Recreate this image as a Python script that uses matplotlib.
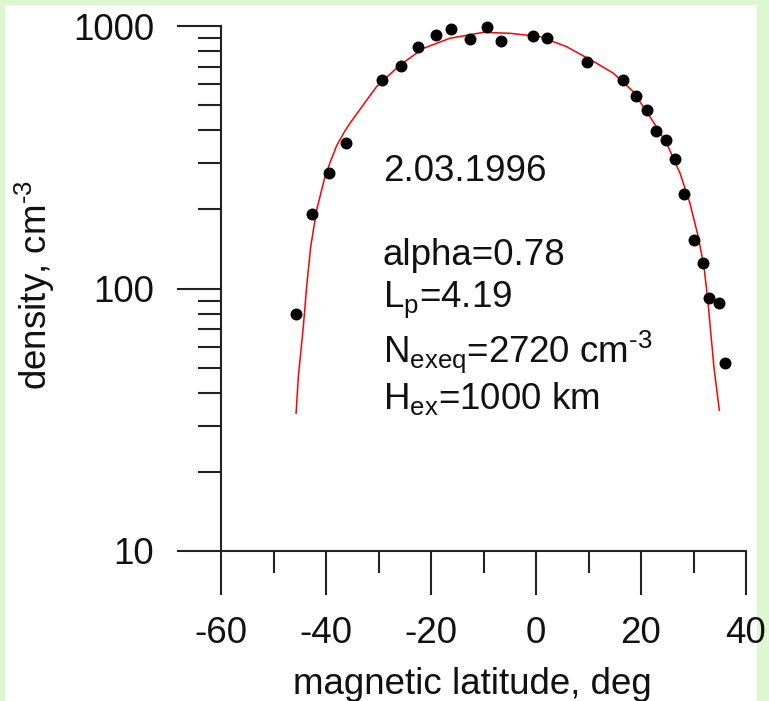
import matplotlib
matplotlib.use("Agg")
import matplotlib.pyplot as plt
from matplotlib.patches import Rectangle
from matplotlib.ticker import FixedLocator, NullFormatter

plt.rcParams['font.family'] = ['Liberation Sans', 'DejaVu Sans']
plt.rcParams['mathtext.fontset'] = 'custom'
plt.rcParams['mathtext.rm'] = 'Liberation Sans'
plt.rcParams['mathtext.it'] = 'Liberation Sans'
plt.rcParams['mathtext.default'] = 'regular'

# measured densities (black dots)
obs_lat = [-45.7, -42.7, -39.5, -36.1, -29.3, -25.7, -22.5, -19.1, -16.1, -12.6,
           -9.4, -6.7, -0.5, 2.0, 9.7, 16.6, 19.0, 21.2, 22.9, 24.8, 26.5,
           28.2, 30.0, 31.8, 33.0, 34.9, 36.0]
obs_dens = [79.7, 192, 276, 359, 622, 705, 830, 922, 974, 895,
            994, 879, 916, 898, 731, 622, 541, 479, 399, 368, 312,
            230, 153, 125, 92, 88, 52]

# model curve (red line)
fit_lat = [-45.7, -45.27, -44.32, -43.68, -42.92, -41.78, -40.19, -39.0, -37.97,
           -36.5, -35.43, -32.25, -30.35, -25.9, -21.46, -16.38, -10.03, -4.95,
           0.76, 5.84, 11.56, 14.73, 18.54, 21.71, 24.89, 27.43, 29.33, 30.92,
           32.0, 32.73, 33.9, 34.92]
fit_dens = [33.5, 46, 71.5, 102, 144, 199, 267, 310, 350,
            395, 426, 522, 588, 710, 822, 898, 946, 938,
            911, 834, 721, 661, 562, 451, 357, 275, 211, 157,
            121, 90, 50, 34.4]

x_ticks = [-60, -40, -20, 0, 20, 40]
x_minor = [-50, -30, -10, 10, 30]
y_ticks = [10, 100, 1000]
y_tick_labels = ['10', '100', '1000']
y_minor = [20, 30, 40, 50, 60, 70, 80, 90, 200, 300, 400, 500, 600, 700, 800, 900]

date_text = '2.03.1996'
param_lines = ['alpha=0.78', 'L$_{p}$=4.19', 'N$_{exeq}$=2720 cm$^{\u20103}$', 'H$_{ex}$=1000 km']

W, H = 769, 701
fig = plt.figure(figsize=(W / 100, H / 100), dpi=100)
fig.patch.set_facecolor('#ddf7d3')
fig.patches.append(Rectangle((5 / W, 0), (757 - 5) / W, (H - 5) / H,
                             transform=fig.transFigure, facecolor='white',
                             edgecolor='none', zorder=-10))

ax = fig.add_axes([221 / W, 1 - 551 / H, (746 - 221) / W, (551 - 26) / H])
ax.set_zorder(5)
ax.set_facecolor('none')
ax.set_yscale('log')
ax.set_xlim(-60, 40)
ax.set_ylim(10, 1000)

ax.plot(fit_lat, fit_dens, color='#ff0000', lw=1.1, zorder=2, clip_on=False)
ax.plot(obs_lat, obs_dens, 'o', color='black', ms=8.6, mew=0, zorder=3, clip_on=False)

for s in ['top', 'right']:
    ax.spines[s].set_visible(False)
for s in ['left', 'bottom']:
    ax.spines[s].set_linewidth(1.5)
    ax.spines[s].set_color('#222222')

ax.xaxis.set_major_locator(FixedLocator(x_ticks))
ax.xaxis.set_minor_locator(FixedLocator(x_minor))
ax.set_xticklabels([str(v) for v in x_ticks])
ax.yaxis.set_major_locator(FixedLocator(y_ticks))
ax.yaxis.set_minor_locator(FixedLocator(y_minor))
ax.set_yticklabels(y_tick_labels)
ax.yaxis.set_minor_formatter(NullFormatter())

ax.tick_params(axis='both', which='major', direction='out', width=1.5,
               color='#222222', labelsize=26.5, labelcolor='#111111')
ax.tick_params(axis='both', which='minor', direction='out', width=1.5,
               color='#222222')
ax.tick_params(axis='x', which='major', length=32, pad=15)
ax.tick_params(axis='x', which='minor', length=16)
ax.tick_params(axis='y', which='major', length=32, pad=16)
ax.tick_params(axis='y', which='minor', length=16.5)

fs = 26.5
def ftext(x, y, s, **kw):
    fig.text(x / W, 1 - y / H, s, fontsize=fs, color='#111111', **kw)

ftext(383, 181, date_text, ha='left', va='baseline')
for yb, s in zip([265, 307, 362, 409], param_lines):
    ftext(383, yb, s, ha='left', va='baseline')

ftext(472, 694, 'magnetic latitude, deg', ha='center', va='baseline')
ftext(35, 285, 'density, cm$^{\u20103}$', ha='center', va='center', rotation=90)

fig.savefig('out.png', dpi=100, facecolor=fig.get_facecolor())
